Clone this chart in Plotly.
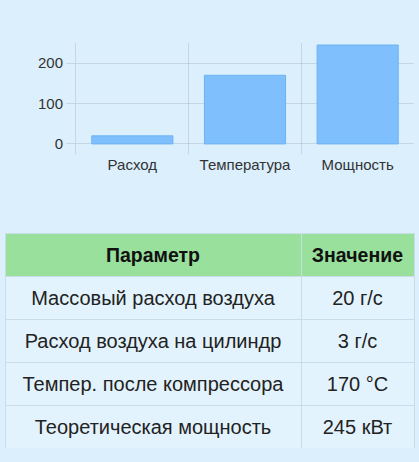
import plotly.graph_objects as go

# bar chart data
categories = ["Расход", "Температура", "Мощность"]
values = [20, 170, 245]

# table data
headers = ["<b>Параметр</b>", "<b>Значение</b>"]
param_names = [
    "Массовый расход воздуха",
    "Расход воздуха на цилиндр",
    "Темпер. после компрессора",
    "Теоретическая мощность",
]
param_values = ["20 г/с", "3 г/с", "170 °C", "245 кВт"]

W, H = 419, 462
BG = "#dbeffd"
GRID = "rgba(0,0,0,0.1)"
BORDER = "#c9dde9"
CLEAR = "rgba(0,0,0,0)"
FONT = "Liberation Sans, Arial, sans-serif"
COLW = [296, 113]
ROW_H = 43


def px_x(p):
    return p / W


def px_y(p):
    return 1 - p / H


fig = go.Figure()

fig.add_trace(
    go.Bar(
        x=categories,
        y=values,
        width=0.72,
        marker=dict(color="#7fbffd", line=dict(color="#6cb3f3", width=1)),
        hoverinfo="x+y",
    )
)

# table grid: fills and borders only
blank = [""] * len(param_names)
fig.add_trace(
    go.Table(
        domain=dict(x=[px_x(5), px_x(414)], y=[px_y(448), px_y(233)]),
        columnwidth=COLW,
        header=dict(
            values=["", ""],
            fill_color="#98e09c",
            line_color=BORDER,
            height=ROW_H,
        ),
        cells=dict(
            values=[blank, blank],
            fill_color="#e2f3fd",
            line_color=BORDER,
            height=ROW_H,
        ),
    )
)

# table text, nudged down so it sits in the middle of each cell
fig.add_trace(
    go.Table(
        domain=dict(x=[px_x(5), px_x(414)], y=[px_y(460), px_y(236)]),
        columnwidth=COLW,
        header=dict(
            values=headers,
            fill_color=CLEAR,
            line_color=CLEAR,
            align="center",
            height=ROW_H + 3,
            font=dict(family=FONT, size=19.5, color="#111"),
        ),
        cells=dict(
            values=[param_names, param_values],
            fill_color=CLEAR,
            line_color=CLEAR,
            align="center",
            height=ROW_H,
            font=dict(family=FONT, size=20, color="#222"),
        ),
    )
)

fig.update_layout(
    width=W,
    height=H,
    margin=dict(l=0, r=0, t=0, b=0),
    paper_bgcolor=BG,
    plot_bgcolor=BG,
    showlegend=False,
    font=dict(family=FONT, size=15, color="#333"),
    xaxis=dict(
        domain=[px_x(76), px_x(414)],
        type="category",
        range=[-0.5, 2.5],
        tickson="boundaries",
        showgrid=True,
        gridcolor=GRID,
        ticks="",
        showline=False,
        zeroline=False,
        tickfont=dict(size=15, color="#333"),
    ),
    yaxis=dict(
        domain=[px_y(154), px_y(43)],
        range=[-25, 250],
        dtick=100,
        showgrid=True,
        gridcolor=GRID,
        zeroline=False,
        ticks="outside",
        ticklen=9,
        tickcolor=GRID,
        showline=True,
        linecolor=GRID,
        tickfont=dict(size=15, color="#333"),
    ),
)

# the page body has a default 8px margin; drop it so the figure fills the window
fig.write_html(
    "out.html",
    config={"displayModeBar": False},
    post_script="document.body.style.margin='0';",
)
